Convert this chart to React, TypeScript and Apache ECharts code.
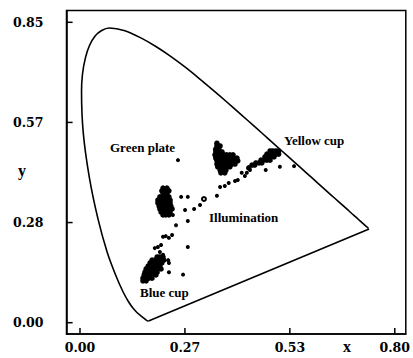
import React, { useEffect, useRef } from "react";
import * as echarts from "echarts";

// CIE 1931 spectral locus (chromaticity x, y), 380–700 nm
const locusX = [0.1741, 0.174, 0.1738, 0.1736, 0.1733, 0.173, 0.1726, 0.1721, 0.1714, 0.1703, 0.1689, 0.1669, 0.1644, 0.1611, 0.1566, 0.151, 0.144, 0.1355, 0.1241, 0.1096, 0.0913, 0.0687, 0.0454, 0.0235, 0.0082, 0.0039, 0.0139, 0.0389, 0.0743, 0.1142, 0.1547, 0.1929, 0.2296, 0.2658, 0.3016, 0.3373, 0.3731, 0.4087, 0.4441, 0.4788, 0.5125, 0.5448, 0.5752, 0.6029, 0.627, 0.6482, 0.6658, 0.6801, 0.6915, 0.7006, 0.7079, 0.714, 0.719, 0.723, 0.726, 0.73, 0.732, 0.7334, 0.7347];
const locusY = [0.005, 0.005, 0.0049, 0.0049, 0.0048, 0.0048, 0.0048, 0.0048, 0.0051, 0.0058, 0.0069, 0.0086, 0.0109, 0.0138, 0.0177, 0.0227, 0.0297, 0.0399, 0.0578, 0.0868, 0.1327, 0.2007, 0.295, 0.4127, 0.5384, 0.6548, 0.7502, 0.812, 0.8338, 0.8262, 0.8059, 0.7816, 0.7543, 0.7243, 0.6923, 0.6589, 0.6245, 0.5896, 0.5547, 0.5202, 0.4866, 0.4544, 0.4242, 0.3965, 0.3725, 0.3514, 0.334, 0.3197, 0.3083, 0.2993, 0.292, 0.2859, 0.2809, 0.277, 0.274, 0.27, 0.268, 0.2666, 0.2653];

const xTicks = [0, 0.26667, 0.53333, 0.8];
const yTicks = [0, 0.28333, 0.56667, 0.85];

const blueCup = [
  [0.160, 0.118], [0.168, 0.118],
  [0.160, 0.126], [0.168, 0.126], [0.175, 0.126], [0.183, 0.126],
  [0.163, 0.135], [0.170, 0.135], [0.178, 0.135], [0.185, 0.135], [0.193, 0.135],
  [0.165, 0.143], [0.173, 0.143], [0.180, 0.143], [0.188, 0.143], [0.196, 0.143],
  [0.168, 0.152], [0.175, 0.152], [0.183, 0.152], [0.190, 0.152], [0.198, 0.152], [0.206, 0.152],
  [0.173, 0.160], [0.180, 0.160], [0.188, 0.160], [0.196, 0.160], [0.203, 0.160],
  [0.178, 0.169], [0.185, 0.169], [0.193, 0.169], [0.201, 0.169], [0.208, 0.169],
  [0.183, 0.177], [0.190, 0.177], [0.198, 0.177], [0.206, 0.177], [0.213, 0.177],
  [0.196, 0.186], [0.203, 0.186], [0.211, 0.186],
];
const blueCupScatter = [
  [0.190, 0.211], [0.198, 0.214], [0.206, 0.220], [0.203, 0.200], [0.211, 0.192],
  [0.224, 0.177], [0.226, 0.169], [0.193, 0.163], [0.226, 0.143], [0.262, 0.136],
  [0.274, 0.214], [0.211, 0.243], [0.218, 0.245], [0.226, 0.240], [0.234, 0.248],
  [0.244, 0.276], [0.274, 0.288],
];

const midCluster = [
  [0.211, 0.381], [0.221, 0.381],
  [0.208, 0.373], [0.218, 0.373], [0.226, 0.373],
  [0.211, 0.364], [0.221, 0.364],
  [0.203, 0.356], [0.211, 0.356], [0.218, 0.356], [0.226, 0.356],
  [0.198, 0.347], [0.206, 0.347], [0.213, 0.347], [0.221, 0.347], [0.229, 0.347],
  [0.198, 0.339], [0.206, 0.339], [0.213, 0.339], [0.221, 0.339], [0.229, 0.339],
  [0.201, 0.330], [0.208, 0.330], [0.216, 0.330], [0.224, 0.330], [0.231, 0.330],
  [0.203, 0.322], [0.211, 0.322], [0.218, 0.322], [0.226, 0.322], [0.234, 0.322],
  [0.206, 0.313], [0.213, 0.313], [0.221, 0.313], [0.229, 0.313],
  [0.211, 0.305], [0.218, 0.305], [0.226, 0.305],
];

const upperCluster = [
  [0.348, 0.508],
  [0.348, 0.500], [0.356, 0.500],
  [0.345, 0.491], [0.353, 0.491],
  [0.345, 0.483], [0.353, 0.483], [0.361, 0.483],
  [0.343, 0.475], [0.350, 0.475], [0.358, 0.475], [0.366, 0.475], [0.373, 0.475], [0.381, 0.475], [0.389, 0.475],
  [0.345, 0.466], [0.353, 0.466], [0.361, 0.466], [0.368, 0.466], [0.376, 0.466], [0.384, 0.466], [0.391, 0.466], [0.399, 0.466],
  [0.348, 0.458], [0.356, 0.458], [0.363, 0.458], [0.371, 0.458], [0.378, 0.458], [0.386, 0.458], [0.394, 0.458], [0.401, 0.458],
  [0.348, 0.449], [0.356, 0.449], [0.363, 0.449], [0.371, 0.449], [0.378, 0.449], [0.386, 0.449], [0.394, 0.449],
  [0.350, 0.441], [0.358, 0.441], [0.366, 0.441], [0.373, 0.441], [0.381, 0.441],
  [0.356, 0.432], [0.363, 0.432], [0.371, 0.432],
  [0.358, 0.424], [0.368, 0.424],
];

const illumination = [
  [0.236, 0.305], [0.257, 0.356], [0.274, 0.356], [0.267, 0.319], [0.290, 0.322],
  [0.305, 0.333], [0.348, 0.359], [0.356, 0.384], [0.368, 0.387], [0.378, 0.395],
  [0.394, 0.401], [0.401, 0.404], [0.411, 0.424], [0.424, 0.424], [0.419, 0.415],
  [0.432, 0.432],
];
const illuminationOpen = [[0.315, 0.350]];

const greenPlate = [[0.249, 0.460]];

const yellowCup = [
  [0.483, 0.486], [0.490, 0.486], [0.498, 0.486], [0.505, 0.486],
  [0.475, 0.477], [0.483, 0.477], [0.490, 0.477], [0.498, 0.477], [0.505, 0.477],
  [0.470, 0.469], [0.477, 0.469], [0.485, 0.469], [0.493, 0.469],
  [0.460, 0.460], [0.467, 0.460], [0.475, 0.460], [0.483, 0.460],
  [0.447, 0.452], [0.455, 0.452], [0.462, 0.452],
  [0.437, 0.446], [0.444, 0.446],
  [0.429, 0.438],
];
const yellowCupScatter = [
  [0.472, 0.432], [0.508, 0.441], [0.544, 0.443],
];

const labelFont = "'Liberation Serif', serif";
const tickFont = "'DejaVu Serif', serif";

const X_MIN = -0.0343;
const X_MAX = 0.828;
const Y_MIN = -0.032;
const Y_MAX = 0.8834;
// tick lengths (~6px) expressed in axis units
const X_TICK_LEN = 0.0155;
const Y_TICK_LEN = 0.017;

export default function App() {
  const ref = useRef<HTMLDivElement>(null);
  useEffect(() => {
    if (!ref.current) return;
    const chart = echarts.init(ref.current, undefined, { renderer: "svg" });
    const locus = locusX.map((x, i) => [x, locusY[i]]);
    const n = locusX.length - 1;
    const purpleLine = [
      [locusX[n], locusY[n]],
      [locusX[0], locusY[0]],
    ];
    const dot = {
      type: "scatter",
      symbol: "circle",
      symbolSize: 4,
      itemStyle: { color: "#000", opacity: 1 },
      silent: true,
    };
    const blob = { ...dot, symbolSize: 5.5 };
    const tickLine = {
      type: "line",
      showSymbol: false,
      silent: true,
      clip: false,
      lineStyle: { color: "#000", width: 1.5 },
    };
    const xTickSeries = xTicks.map((v) => ({
      ...tickLine,
      name: "x tick " + v.toFixed(2),
      data: [
        [v, Y_MIN],
        [v, Y_MIN + Y_TICK_LEN],
      ],
    }));
    const yTickSeries = yTicks.map((v) => ({
      ...tickLine,
      name: "y tick " + v.toFixed(2),
      data: [
        [X_MIN, v],
        [X_MIN + X_TICK_LEN, v],
      ],
    }));
    chart.setOption({
      animation: false,
      backgroundColor: "#fff",
      grid: {
        left: 66.5,
        right: 7,
        top: 10.5,
        bottom: 24,
        show: true,
        borderColor: "#000",
        borderWidth: 1.5,
        backgroundColor: "transparent",
      },
      xAxis: {
        type: "value",
        min: X_MIN,
        max: X_MAX,
        splitLine: { show: false },
        axisLine: { show: true, onZero: false, lineStyle: { color: "#000", width: 1.5 } },
        axisTick: { show: false },
        axisLabel: {
          customValues: xTicks,
          formatter: (v: number) => v.toFixed(2),
          margin: 7,
          color: "#000",
          fontFamily: tickFont,
          fontWeight: "bold",
          fontSize: 12.5,
        },
      },
      yAxis: {
        type: "value",
        min: Y_MIN,
        max: Y_MAX,
        splitLine: { show: false },
        axisLine: { show: true, onZero: false, lineStyle: { color: "#000", width: 1.5 } },
        axisTick: { show: false },
        axisLabel: {
          customValues: yTicks,
          formatter: (v: number) => v.toFixed(2),
          margin: 23,
          padding: [0, 0, 8, 0],
          color: "#000",
          fontFamily: tickFont,
          fontWeight: "bold",
          fontSize: 12.5,
        },
      },
      series: [
        ...xTickSeries,
        ...yTickSeries,
        {
          type: "line",
          name: "Spectral locus",
          data: locus,
          showSymbol: false,
          smooth: 0.3,
          lineStyle: { color: "#000", width: 1.6 },
          silent: true,
        },
        {
          type: "line",
          name: "Purple line",
          data: purpleLine,
          showSymbol: false,
          lineStyle: { color: "#000", width: 1.6 },
          silent: true,
        },
        { ...blob, name: "Blue cup", data: blueCup },
        { ...dot, name: "Blue cup (scatter)", data: blueCupScatter },
        { ...blob, name: "Cluster 1", data: midCluster },
        { ...blob, name: "Cluster 2", data: upperCluster },
        { ...dot, name: "Illumination", data: illumination },
        {
          type: "scatter",
          name: "Illumination (open)",
          symbol: "emptyCircle",
          symbolSize: 4,
          itemStyle: { color: "#000", borderColor: "#000", borderWidth: 1, opacity: 1 },
          data: illuminationOpen,
        },
        { ...dot, name: "Green plate", data: greenPlate },
        { ...blob, name: "Yellow cup", data: yellowCup },
        { ...dot, name: "Yellow cup (scatter)", data: yellowCupScatter },
      ],
      graphic: [
        { type: "text", left: 110, top: 141, style: { text: "Green plate", font: `bold 13px ${labelFont}`, fill: "#000" } },
        { type: "text", left: 284, top: 134, style: { text: "Yellow cup", font: `bold 13px ${labelFont}`, fill: "#000" } },
        { type: "text", left: 209, top: 211, style: { text: "Illumination", font: `bold 13px ${labelFont}`, fill: "#000" } },
        { type: "text", left: 140, top: 286, style: { text: "Blue cup", font: `bold 13px ${labelFont}`, fill: "#000" } },
        { type: "text", left: 343, top: 338, style: { text: "x", font: `bold 16px ${labelFont}`, fill: "#000" } },
        { type: "text", left: 18, top: 162, style: { text: "y", font: `bold 16px ${labelFont}`, fill: "#000" } },
      ],
    });
    return () => chart.dispose();
  }, []);
  return <div ref={ref} style={{ width: 413, height: 358, position: "absolute", left: 0, top: 0 }} />;
}
